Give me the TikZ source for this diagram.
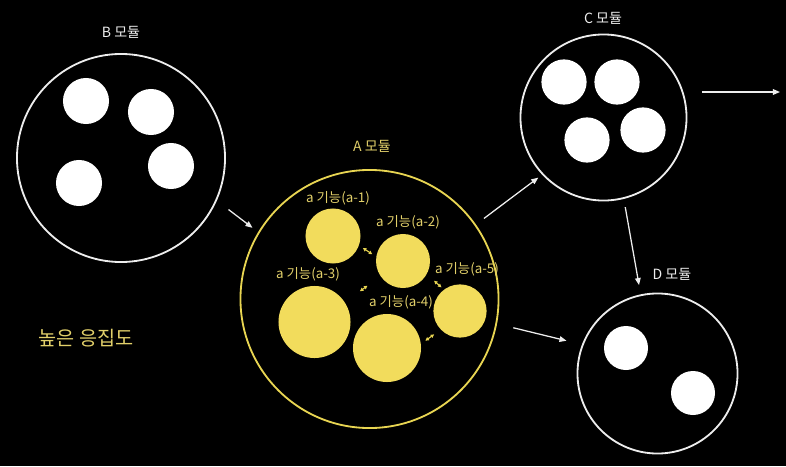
\documentclass[tikz,border=0pt]{standalone}
\usepackage{fontspec}
\setmainfont{Noto Sans CJK KR}
\usetikzlibrary{arrows.meta}
\definecolor{ModGold}{HTML}{E8D552}
\definecolor{ModFill}{HTML}{F2DC5C}
\definecolor{ModText}{HTML}{E2D06A}
\definecolor{ModWhite}{HTML}{EDEDED}

\begin{document}
\begin{tikzpicture}[x=0.025cm, y=-0.025cm,
    module/.style={circle, draw=ModWhite, line width=1.3pt, inner sep=0pt},
    dot/.style={circle, fill=white, inner sep=0pt},
    func/.style={circle, fill=ModFill, inner sep=0pt},
    tag/.style={text=ModWhite, font=\fontsize{10}{12}\selectfont},
    ftag/.style={text=ModText, font=\fontsize{9.5}{11}\selectfont},
    flow/.style={-{Triangle[length=5pt,width=4pt]}, ModWhite, line width=0.9pt},
    link/.style={{Triangle[length=2.5pt,width=2.5pt]}-{Triangle[length=2.5pt,width=2.5pt]}, ModGold, line width=0.8pt}]
    % Background
    \fill[black] (0,0) rectangle (786,466);
    \useasboundingbox (0,0) rectangle (786,466);

    % B module
    \node[module, minimum size=5.2cm] (B) at (121,158) {};
    \node[tag] (Btag) at (121,32) {B 모듈};
    \foreach \x/\y [count=\i] in {86/101, 151/112, 171/166, 79/183}
        \node[dot, minimum size=1.15cm] (b\i) at (\x,\y) {};

    % C module
    \node[module, minimum size=4.15cm] (C) at (603.5,117.5) {};
    \node[tag] (Ctag) at (603,18) {C 모듈};
    \foreach \x/\y [count=\i] in {564/82, 617/82, 587/140, 643/130}
        \node[dot, minimum size=1.13cm] (c\i) at (\x,\y) {};

    % D module
    \node[module, minimum size=4.0cm] (D) at (657.5,373.5) {};
    \node[tag] (Dtag) at (672,274) {D 모듈};
    \foreach \x/\y [count=\i] in {626/348, 693/393}
        \node[dot, minimum size=1.1cm] (d\i) at (\x,\y) {};

    % A module
    \node[module, draw=ModGold, minimum size=6.45cm] (A) at (369.5,299) {};
    \node[tag, text=ModText] (Atag) at (372,146) {A 모듈};
    \node[func, minimum size=1.375cm] (a1) at (333,236) {};
    \node[func, minimum size=1.35cm] (a2) at (403,261) {};
    \node[func, minimum size=1.8cm] (a3) at (314.5,322) {};
    \node[func, minimum size=1.7cm] (a4) at (387,348) {};
    \node[func, minimum size=1.33cm] (a5) at (460,311) {};
    \node[ftag] (a1tag) at (338,198) {a 기능(a-1)};
    \node[ftag] (a2tag) at (408,222) {a 기능(a-2)};
    \node[ftag] (a3tag) at (308,274) {a 기능(a-3)};
    \node[ftag] (a4tag) at (401,302) {a 기능(a-4)};
    \node[ftag] (a5tag) at (467,269) {a 기능(a-5)};

    % Links inside A
    \draw[link, shorten <=3.2pt, shorten >=3.2pt] (a1.-20) -- (a2.171);
    \draw[link, shorten <=13.2pt, shorten >=11.4pt] (a3.33) -- (a2.214);
    \draw[link, shorten <=6.9pt, shorten >=2.3pt] (a2.-29) -- (a5.127);
    \draw[link, shorten <=3.8pt, shorten >=5.7pt] (a4.7) -- (a5.224);

    % Flows between modules
    \coordinate (out) at (780,92);
    \draw[flow, shorten <=10.4pt, shorten >=5pt] (B.-24) -- (A.149);
    \draw[flow, shorten <=7.1pt, shorten >=3.4pt] (A.35) -- (C.223);
    \draw[flow, shorten <=11.9pt, shorten >=11.3pt] (A.-11) -- (D.159);
    \draw[flow, shorten <=5.9pt, shorten >=6.7pt] (C.-76) -- (D.102);
    \draw[flow, shorten <=10.3pt] (C.east |- out) -- (out);

    % Caption
    \node[text=ModText, font=\fontsize{14}{17}\selectfont] (cohesion) at (86,338) {높은 응집도};
\end{tikzpicture}
\end{document}
